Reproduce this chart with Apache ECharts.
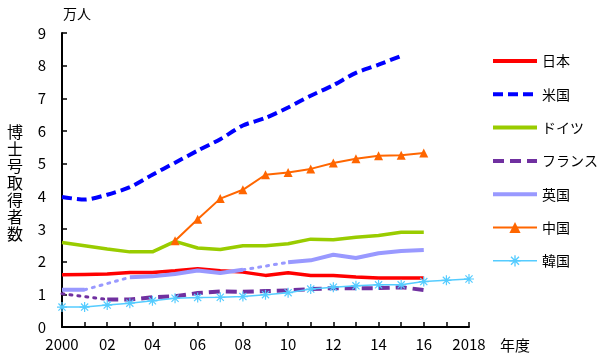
<!DOCTYPE html>
<html><head><meta charset="utf-8">
<script src="https://cdn.jsdelivr.net/npm/echarts@6/dist/echarts.min.js"></script>
<style>html,body{margin:0;padding:0;background:#fff}#c{width:600px;height:359px}</style>
</head><body><div id="c"></div>
<script>
const years = [2000,2001,2002,2003,2004,2005,2006,2007,2008,2009,2010,2011,2012,2013,2014,2015,2016,2017,2018];
const xTickLabels = {2000:'2000',2002:'02',2004:'04',2006:'06',2008:'08',2010:'10',2012:'12',2014:'14',2016:'16',2018:'2018'};
const japan   = [1.60,1.61,1.62,1.67,1.67,1.72,1.78,1.72,1.68,1.58,1.66,1.58,1.58,1.53,1.50,1.50,1.50,null,null];
const usa     = [3.98,3.90,4.05,4.28,4.66,5.03,5.40,5.75,6.17,6.40,6.72,7.08,7.40,7.78,8.03,8.30,null,null,null];
const germany = [2.59,2.49,2.39,2.30,2.30,2.62,2.42,2.37,2.49,2.49,2.55,2.69,2.67,2.75,2.80,2.90,2.90,null,null];
const france  = [1.02,null,0.84,0.84,0.91,0.94,1.04,1.09,1.08,1.10,1.12,1.16,1.19,1.19,1.19,1.22,1.13,null,null];
const uk      = [1.14,1.14,null,1.52,1.55,1.62,1.73,1.65,1.75,null,1.98,2.04,2.21,2.11,2.26,2.33,2.36,null,null];
const china   = [null,null,null,null,null,2.64,3.30,3.93,4.20,4.66,4.73,4.84,5.02,5.15,5.24,5.26,5.33,null,null];
const korea   = [0.61,0.61,0.67,0.73,0.80,0.88,0.90,0.91,0.93,0.99,1.05,1.16,1.22,1.26,1.29,1.29,1.39,1.43,1.47];
const names = ['日本','米国','ドイツ','フランス','英国','中国','韓国'];

const FONT = '"Noto Sans CJK JP", "Liberation Sans", sans-serif';
const pairs = arr => years.map((y,i)=>[y, arr[i]]);
// dotted connectors across interior gaps
function gapPairs(arr){
  const out = [];
  for(let i=1;i<arr.length-1;i++){
    if(arr[i]===null && arr[i-1]!==null && arr[i+1]!==null){
      out.push([years[i-1],arr[i-1]],[years[i+1],arr[i+1]],[years[i+1]+0.0001,null]);
    }
  }
  return out;
}
const asterisk = 'path://M4.4,0h1.2v10h-1.2z M0,4.4h10v1.2h-10z M1,1.85l0.85,-0.85l7.15,7.15l-0.85,0.85z M8.15,1l0.85,0.85l-7.15,7.15l-0.85,-0.85z';
// invisible marker (two microscopic dots) so the legend shows just the line
const noSym = 'path://M0,0h0.001v0.001h-0.001z M100,100h0.001v0.001h-0.001z';
const legendWidths = [4,4,4,4,4,2,1.5];

const chart = echarts.init(document.getElementById('c'), null, {renderer:'canvas'});
chart.setOption({
  animation:false,
  backgroundColor:'#fff',
  grid:{left:62,right:131,top:33,bottom:32},
  xAxis:{type:'value',min:2000,max:2018,interval:1,
    axisLine:{lineStyle:{color:'#000',width:2}},
    axisTick:{inside:true,length:5,lineStyle:{color:'#000',width:1.5}},
    splitLine:{show:false},
    axisLabel:{showMinLabel:true,showMaxLabel:true,margin:10,color:'#000',fontSize:15,fontFamily:FONT,
      formatter:v=>xTickLabels[v]||''}},
  yAxis:{type:'value',min:0,max:9,interval:1,
    axisLine:{show:true,lineStyle:{color:'#000',width:2}},
    axisTick:{show:true,inside:true,length:5,lineStyle:{color:'#000',width:1.5}},
    splitLine:{show:false},
    axisLabel:{margin:16,color:'#000',fontSize:15,fontFamily:FONT}},
  legend:{orient:'vertical',left:491,top:54,padding:0,itemWidth:44,itemHeight:14,itemGap:19.3,
    data:names.map((n,i)=>({name:n,lineStyle:{width:legendWidths[i]}})),
    textStyle:{fontSize:14,color:'#000',fontFamily:FONT}},
  graphic:[
    {type:'text',left:63,top:7,style:{text:'万人',fontSize:14,fill:'#000',fontFamily:FONT}},
    {type:'text',left:500,top:338,style:{text:'年度',fontSize:15,fill:'#000',fontFamily:FONT}},
    {type:'text',left:7,top:123,style:{text:'博\n士\n号\n取\n得\n者\n数',fontSize:16,lineHeight:17,fill:'#000',fontFamily:FONT}}
  ],
  series:[
    {name:'日本',type:'line',data:pairs(japan),symbol:noSym,showSymbol:false,color:'#ff0000',lineStyle:{width:3.5}},
    {name:'米国',type:'line',data:pairs(usa),symbol:noSym,showSymbol:false,color:'#0000ff',smooth:0.25,lineStyle:{width:4,type:[10,5]}},
    {name:'ドイツ',type:'line',data:pairs(germany),symbol:noSym,showSymbol:false,color:'#99cc00',lineStyle:{width:3.5}},
    {name:'フランス',type:'line',data:pairs(france),symbol:noSym,showSymbol:false,color:'#7030a0',lineStyle:{width:4,type:[11,6]}},
    {name:'フランス_gap',type:'line',data:gapPairs(france),symbol:'none',color:'#7030a0',lineStyle:{width:3,type:[2,6],cap:'round'}},
    {name:'英国',type:'line',data:pairs(uk),symbol:noSym,showSymbol:false,color:'#9999ff',lineStyle:{width:4}},
    {name:'英国_gap',type:'line',data:gapPairs(uk),symbol:'none',color:'#9999ff',lineStyle:{width:3,type:[2,6],cap:'round'}},
    {name:'中国',type:'line',data:pairs(china),symbol:'triangle',symbolSize:9,color:'#ff6600',lineStyle:{width:2}},
    {name:'韓国',type:'line',data:pairs(korea),symbol:asterisk,symbolSize:10,color:'#55ccff',lineStyle:{width:1.5}}
  ]
});
</script></body></html>
